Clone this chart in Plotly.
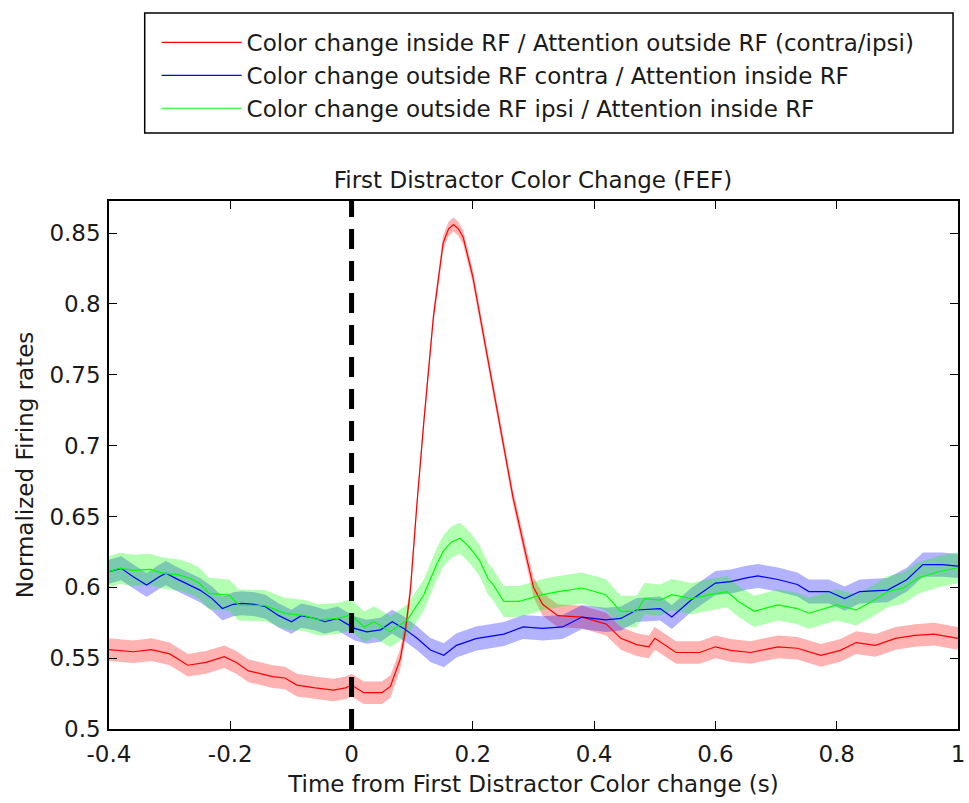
import plotly.graph_objects as go

# ---------------- data ----------------
red_t = [-0.40,-0.38,-0.36,-0.33,-0.30,-0.27,-0.24,-0.21,-0.19,-0.17,-0.15,-0.13,-0.11,-0.09,-0.06,
         -0.03,-0.01,0.00,0.02,0.05,0.064,0.08,0.089,0.097,0.108,0.119,0.135,0.151,0.160,0.168,
         0.176,0.184,0.20,0.222,0.244,0.266,0.288,0.30,0.315,0.34,0.38,0.42,0.444,0.47,0.49,
         0.50,0.535,0.574,0.60,0.625,0.658,0.703,0.735,0.774,0.806,0.832,0.864,0.897,0.929,0.961,1.00]
red_v = [0.556,0.555,0.5545,0.556,0.553,0.545,0.547,0.551,0.547,0.541,0.539,0.537,0.536,0.531,0.529,
         0.5275,0.529,0.531,0.5256,0.5256,0.530,0.549,0.570,0.598,0.660,0.716,0.791,0.843,0.853,0.856,
         0.853,0.847,0.819,0.767,0.716,0.664,0.622,0.600,0.588,0.580,0.579,0.574,0.564,0.5595,0.558,
         0.564,0.554,0.554,0.558,0.5555,0.554,0.558,0.557,0.552,0.5555,0.561,0.559,0.564,0.566,0.567,0.564]
red_sem = [0.008,0.008,0.008,0.008,0.008,0.008,0.008,0.008,0.008,0.008,0.008,0.008,0.008,0.008,0.008,
           0.008,0.008,0.008,0.008,0.008,0.008,0.007,0.006,0.006,0.005,0.005,0.005,0.005,0.005,0.005,
           0.005,0.005,0.005,0.005,0.005,0.005,0.006,0.007,0.008,0.008,0.008,0.008,0.008,0.008,0.008,
           0.008,0.008,0.008,0.008,0.008,0.008,0.008,0.008,0.008,0.008,0.008,0.008,0.008,0.008,0.008,0.008]

blue_t = [-0.40,-0.38,-0.36,-0.338,-0.317,-0.306,-0.29,-0.27,-0.25,-0.23,-0.213,-0.195,-0.181,-0.16,-0.142,
          -0.12,-0.099,-0.083,-0.06,-0.044,-0.023,0.005,0.025,0.048,0.067,0.086,0.108,0.13,0.152,0.173,
          0.205,0.251,0.283,0.315,0.348,0.38,0.419,0.444,0.47,0.509,0.528,0.56,0.60,0.625,0.651,
          0.67,0.703,0.735,0.754,0.787,0.813,0.838,0.884,0.916,0.942,0.974,1.0]
blue_v = [0.611,0.6134,0.6075,0.6016,0.6075,0.610,0.6063,0.602,0.598,0.592,0.585,0.588,0.5887,0.588,0.5863,
          0.580,0.5757,0.580,0.578,0.5757,0.578,0.571,0.5686,0.570,0.5757,0.571,0.564,0.5557,0.552,0.559,
          0.5638,0.567,0.572,0.571,0.572,0.579,0.577,0.578,0.584,0.585,0.579,0.591,0.603,0.604,0.6067,
          0.608,0.6055,0.602,0.597,0.597,0.592,0.597,0.598,0.6055,0.616,0.616,0.615]
blue_sem = 0.0085

green_t = [-0.40,-0.382,-0.36,-0.333,-0.311,-0.284,-0.265,-0.251,-0.235,-0.202,-0.186,-0.142,-0.11,-0.077,-0.055,
           -0.023,-0.001,0.021,0.037,0.064,0.092,0.119,0.141,0.152,0.165,0.179,0.195,0.211,0.225,0.233,
           0.251,0.276,0.315,0.341,0.38,0.419,0.444,0.47,0.483,0.509,0.528,0.56,0.593,0.619,0.638,
           0.664,0.703,0.735,0.754,0.80,0.832,0.858,0.884,0.91,0.935,0.968,1.0]
green_v = [0.611,0.6134,0.612,0.6127,0.610,0.6087,0.606,0.6028,0.5957,0.5945,0.5875,0.587,0.5816,0.580,0.577,
           0.578,0.5805,0.572,0.5757,0.5687,0.577,0.5945,0.617,0.626,0.632,0.6346,0.628,0.619,0.606,0.602,
           0.590,0.590,0.5948,0.597,0.5995,0.5948,0.583,0.583,0.592,0.591,0.5948,0.592,0.595,0.597,0.590,
           0.583,0.5876,0.585,0.5817,0.5876,0.584,0.590,0.597,0.5995,0.6067,0.611,0.6138]
green_sem = 0.011

series_names = [
    "Color change inside RF / Attention outside RF (contra/ipsi)",
    "Color change outside RF contra / Attention inside RF",
    "Color change outside RF ipsi / Attention inside RF",
]
x_ticks = [-0.4, -0.2, 0, 0.2, 0.4, 0.6, 0.8, 1]
x_tick_labels = ["-0.4", "-0.2", "0", "0.2", "0.4", "0.6", "0.8", "1"]
y_ticks = [0.5, 0.55, 0.6, 0.65, 0.7, 0.75, 0.8, 0.85]
y_tick_labels = ["0.5", "0.55", "0.6", "0.65", "0.7", "0.75", "0.8", "0.85"]

# ---------------- figure ----------------
FONT = "DejaVu Sans, sans-serif"
FS = 23
TXT = "#1a1a1a"
W, H = 969, 803
ML, MR, MT, MB = 109, 4, 201, 74
PW, PH = W - ML - MR, H - MT - MB


def px_to_paper_x(px):
    return (px - ML) / PW


def px_to_paper_y(py):
    return (H - MB - py) / PH


fig = go.Figure()

series = [
    (red_t, red_v, red_sem, "#ff0000", "rgba(255,0,0,0.3)"),
    (blue_t, blue_v, [blue_sem] * len(blue_t), "#0000ff", "rgba(0,0,255,0.3)"),
    (green_t, green_v, [green_sem] * len(green_t), "#00ff00", "rgba(0,255,0,0.3)"),
]

# shaded error bands
for t, v, s, col, fillcol in series:
    upper = [a + b for a, b in zip(v, s)]
    lower = [a - b for a, b in zip(v, s)]
    fig.add_trace(go.Scatter(x=t + t[::-1], y=upper + lower[::-1], fill="toself",
                             fillcolor=fillcol, line=dict(width=0), mode="lines",
                             hoverinfo="skip", showlegend=False))

# mean lines
for (t, v, s, col, fillcol), name in zip(series, series_names):
    fig.add_trace(go.Scatter(x=t, y=v, mode="lines", name=name,
                             line=dict(color=col, width=1.2)))

# event marker at t = 0
fig.add_shape(type="line", xref="x", yref="paper", x0=0, x1=0, y0=0, y1=1,
              line=dict(color="black", width=5, dash="20px,12px"))

# legend frame (MATLAB-style padded box)
fig.add_shape(type="rect", xref="paper", yref="paper",
              x0=px_to_paper_x(145), x1=px_to_paper_x(960),
              y0=px_to_paper_y(133), y1=px_to_paper_y(13),
              line=dict(color="black", width=1.5), fillcolor="rgba(0,0,0,0)", layer="above")

axis_common = dict(showgrid=False, zeroline=False, showline=True, linecolor="black",
                   linewidth=1.5, mirror="ticks", ticks="inside", ticklen=8,
                   tickcolor="black", tickwidth=1.2, ticklabeloverflow="allow",
                   tickfont=dict(family=FONT, size=FS, color=TXT))

fig.update_layout(
    width=W, height=H,
    paper_bgcolor="white", plot_bgcolor="white",
    margin=dict(l=ML, r=MR, t=MT, b=MB),
    title=dict(text="First Distractor Color Change (FEF)", x=533 / W, xanchor="center",
               y=1 - 180 / H, yanchor="middle",
               font=dict(family=FONT, size=FS, color=TXT)),
    xaxis=dict(range=[-0.4, 1], tickvals=x_ticks, ticktext=x_tick_labels,
               ticklabelstandoff=4,
               title=dict(text="Time from First Distractor Color change (s)", standoff=10,
                          font=dict(family=FONT, size=FS, color=TXT)),
               **axis_common),
    yaxis=dict(range=[0.5, 0.8726], tickvals=y_ticks, ticktext=y_tick_labels,
               ticklabelstandoff=2,
               title=dict(text="Normalized Firing rates", standoff=9,
                          font=dict(family=FONT, size=FS, color=TXT)),
               **axis_common),
    legend=dict(x=px_to_paper_x(157), y=px_to_paper_y(21), xanchor="left", yanchor="top",
                borderwidth=0, bgcolor="rgba(0,0,0,0)",
                font=dict(family=FONT, size=FS, color=TXT),
                itemwidth=80, tracegroupgap=0),
    showlegend=True,
)

fig.write_html("out.html",
               config={"displayModeBar": False},
               post_script="document.body.style.margin='0';document.body.style.overflow='hidden';")
